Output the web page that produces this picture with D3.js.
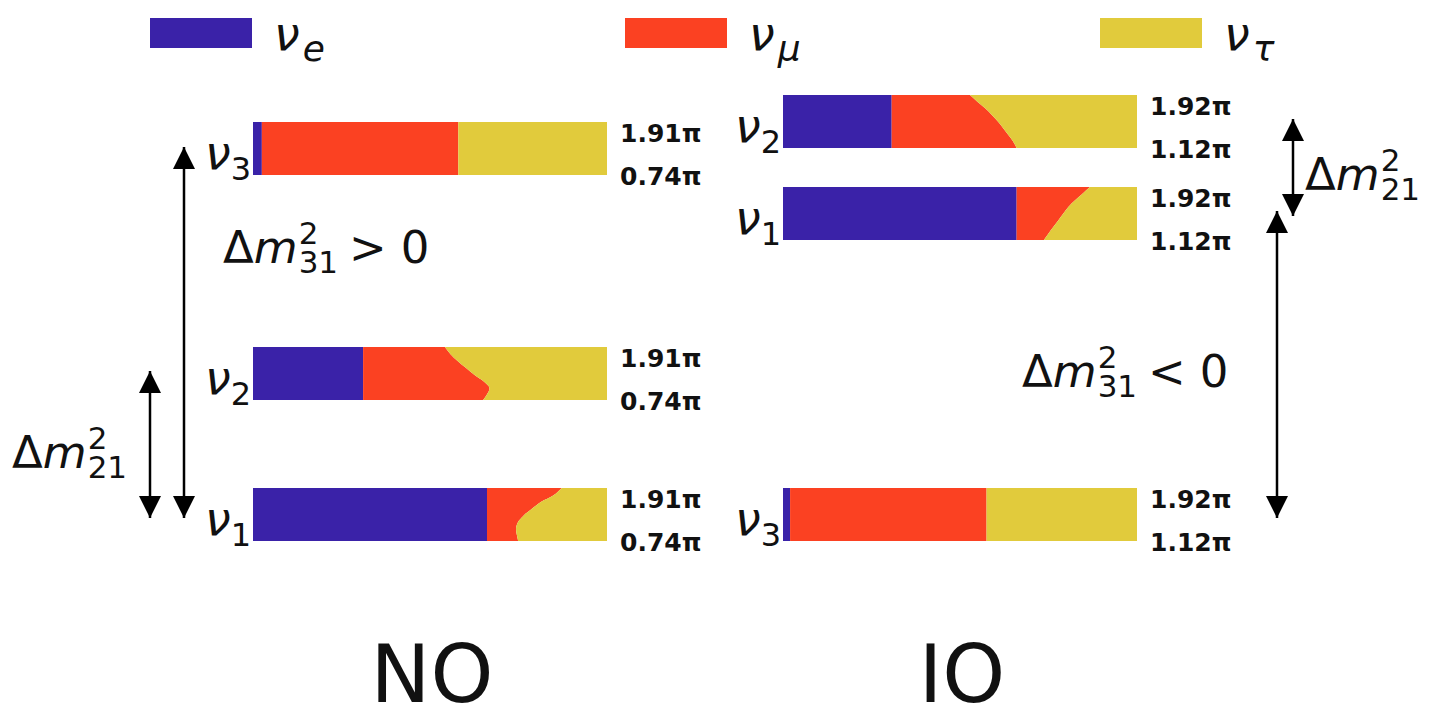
<!DOCTYPE html>
<html><head><meta charset="utf-8">
<script src="https://cdn.jsdelivr.net/npm/d3@7"></script>
<style>body{margin:0;background:#fff}svg{display:block}text{font-family:"DejaVu Sans",sans-serif;fill:#111}</style>
</head><body><svg id="c" width="1441" height="714"></svg>
<script>
// ---- data ----
const flavors = ["e", "μ", "τ"];
const flavorColors = ["#3a22a8", "#fb4122", "#e1cb3c"];
// delta_CP sample points (units of π), top of bar -> bottom
const deltaNO = [1.91, 1.75, 1.60, 1.45, 1.30, 1.15, 1.00, 0.85, 0.74];
const deltaIO = [1.92, 1.82, 1.72, 1.62, 1.52, 1.42, 1.32, 1.22, 1.12];
const deltaLabelsNO = ["1.91π", "0.74π"];
const deltaLabelsIO = ["1.92π", "1.12π"];
// |U_ei|^2 (constant in delta)
const eNO = {nu1: 0.661, nu2: 0.311, nu3: 0.025};
const eIO = {nu1: 0.660, nu2: 0.307, nu3: 0.020};
// |U_mu i|^2 versus delta
const muNO_nu1 = [0.211, 0.188, 0.152, 0.127, 0.103, 0.087, 0.082, 0.085, 0.088];
const muNO_nu2 = [0.231, 0.247, 0.267, 0.290, 0.314, 0.341, 0.357, 0.349, 0.339];
const muNO_nu3 = [0.555, 0.555, 0.555, 0.555, 0.555, 0.555, 0.555, 0.555, 0.555];
const muIO_nu1 = [0.207, 0.186, 0.165, 0.146, 0.132, 0.118, 0.104, 0.090, 0.077];
const muIO_nu2 = [0.221, 0.242, 0.264, 0.283, 0.300, 0.315, 0.329, 0.343, 0.353];
const muIO_nu3 = [0.555, 0.555, 0.555, 0.555, 0.555, 0.555, 0.555, 0.555, 0.555];
const orderings = ["NO", "IO"];

// ---- drawing ----
const svg = d3.select("#c");
const BAR_H = 53;

function measure(txt, size, italic, weight) {
  const t = svg.append("text").attr("font-size", size).attr("font-style", italic ? "italic" : "normal")
    .attr("font-weight", weight || "normal").text(txt);
  const w = t.node().getComputedTextLength(); t.remove(); return w;
}

// nu label with subscript; anchor 'end' or 'start'
function nuLabel(x, y, sub, anchor, subItalic, ssize) {
  const size = 46; ssize = ssize || 32;
  const wMain = measure("ν", size, true), wSub = measure(sub, ssize, subItalic);
  const x0 = anchor === "end" ? x - wMain - wSub : x;
  svg.append("text").attr("x", x0).attr("y", y).attr("font-size", size).attr("font-style", "italic").text("ν");
  svg.append("text").attr("x", x0 + wMain + (anchor === "end" ? 0 : 3)).attr("y", y + 11).attr("font-size", ssize)
    .attr("font-style", subItalic ? "italic" : "normal").text(sub);
}

function dmLabel(x, y, sub, rel) {
  const size = 45, ssize = 31;
  const t = svg.append("text").attr("x", x).attr("y", y).attr("font-size", size);
  t.append("tspan").text("Δ");
  t.append("tspan").attr("font-style", "italic").text("m");
  const w = t.node().getComputedTextLength();
  svg.append("text").attr("x", x + w + 1).attr("y", y - 19).attr("font-size", ssize).text("2");
  svg.append("text").attr("x", x + w + 1).attr("y", y + 10).attr("font-size", ssize).text(sub);
  if (rel) {
    const ws = measure(sub, ssize, false);
    const xr = x + w + ws + 12;
    svg.append("text").attr("x", xr).attr("y", y).attr("font-size", size).text(rel);
    const wr = measure(rel, size, false);
    svg.append("text").attr("x", xr + wr + 14).attr("y", y).attr("font-size", size).text("0");
  }
}

function bar(xl, xr, top, delta, e, mu, labels, nuSub) {
  const x = d3.scaleLinear().domain([0, 1]).range([xl, xr]);
  const y = d3.scaleLinear().domain([delta[0], delta[delta.length - 1]]).range([top, top + BAR_H]);
  const pts = delta.map((d, i) => ({d, e, mu: mu[i]}));
  const bounds = [
    [p => 0, p => p.e],
    [p => p.e, p => p.e + p.mu],
    [p => p.e + p.mu, p => 1]
  ];
  bounds.forEach((b, k) => {
    const area = d3.area().curve(d3.curveMonotoneY)
      .y(p => y(p.d)).x0(p => x(b[0](p))).x1(p => x(b[1](p)));
    svg.append("path").datum(pts).attr("d", area).attr("fill", flavorColors[k]);
  });
  svg.append("text").attr("x", xr + 13).attr("y", top + 20).attr("font-size", 25).attr("font-weight", "bold").text(labels[0]);
  svg.append("text").attr("x", xr + 13).attr("y", top + BAR_H + 10).attr("font-size", 25).attr("font-weight", "bold").text(labels[1]);
  nuLabel(xl - 2, top + BAR_H - 6, nuSub, "end", false);
}

// legend
const legendX = [150, 625, 1100];
flavors.forEach((f, i) => {
  svg.append("rect").attr("x", legendX[i]).attr("y", 18).attr("width", 102).attr("height", 30).attr("fill", flavorColors[i]);
  nuLabel(legendX[i] + 124, 50, f, "start", true, 36);
});

// NO
const NOx = [253, 607], IOx = [783, 1137];
bar(NOx[0], NOx[1], 122, deltaNO, eNO.nu3, muNO_nu3, deltaLabelsNO, "3");
bar(NOx[0], NOx[1], 347, deltaNO, eNO.nu2, muNO_nu2, deltaLabelsNO, "2");
bar(NOx[0], NOx[1], 488, deltaNO, eNO.nu1, muNO_nu1, deltaLabelsNO, "1");
// IO
bar(IOx[0], IOx[1], 95, deltaIO, eIO.nu2, muIO_nu2, deltaLabelsIO, "2");
bar(IOx[0], IOx[1], 187, deltaIO, eIO.nu1, muIO_nu1, deltaLabelsIO, "1");
bar(IOx[0], IOx[1], 488, deltaIO, eIO.nu3, muIO_nu3, deltaLabelsIO, "3");

// arrows
const defs = svg.append("defs");
defs.append("marker").attr("id", "ah").attr("viewBox", "0 0 10 10").attr("refX", 10).attr("refY", 5)
  .attr("markerWidth", 22).attr("markerHeight", 22).attr("markerUnits", "userSpaceOnUse")
  .attr("orient", "auto-start-reverse")
  .append("path").attr("d", "M0,0 L10,5 L0,10 Z").attr("fill", "#000");
function arrow(x, y1, y2) {
  svg.append("line").attr("x1", x).attr("x2", x).attr("y1", y1).attr("y2", y2)
    .attr("stroke", "#000").attr("stroke-width", 2.5)
    .attr("marker-start", "url(#ah)").attr("marker-end", "url(#ah)");
}
arrow(184, 147, 518);
arrow(150, 371, 518);
arrow(1293, 119, 216);
arrow(1277, 211, 518);

dmLabel(223, 263, "31", ">");
dmLabel(12, 468, "21");
dmLabel(1022, 387, "31", "<");
dmLabel(1305, 190, "21");

svg.append("text").attr("x", 432).attr("y", 702).attr("font-size", 80).attr("text-anchor", "middle").text(orderings[0]);
svg.append("text").attr("x", 962).attr("y", 702).attr("font-size", 80).attr("text-anchor", "middle").text(orderings[1]);
</script></body></html>
